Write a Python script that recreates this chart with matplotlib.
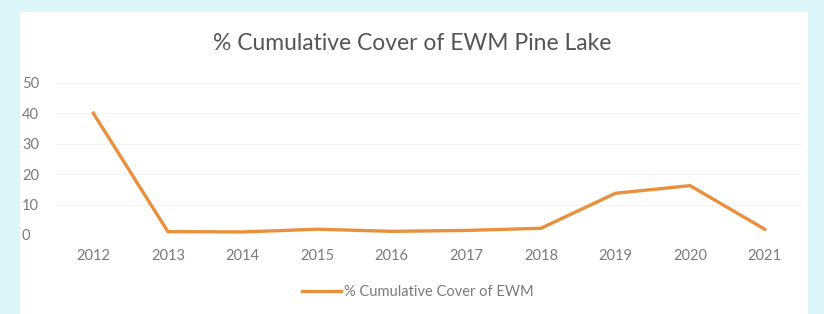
import matplotlib
matplotlib.use("Agg")
import matplotlib.pyplot as plt
from matplotlib.patches import Rectangle

years = ["2012", "2013", "2014", "2015", "2016", "2017", "2018", "2019", "2020", "2021"]
cover = [40, 1.1, 1.0, 1.9, 1.2, 1.5, 2.2, 13.7, 16.2, 1.9]
yticks = [0, 10, 20, 30, 40, 50]

plt.rcParams['font.family'] = ['Lato', 'DejaVu Sans']

fig = plt.figure(figsize=(8.24, 3.14), dpi=100, facecolor='#dcf5f8')
fig.patches.append(Rectangle((20/824, 0), (808-20)/824, 1 - 12/314,
                             transform=fig.transFigure, facecolor='white',
                             edgecolor='none', zorder=-5))

ax = fig.add_axes([56/824, 1 - 235/314, (802-56)/824, (235-82.7)/314])
ax.set_facecolor('none')
ax.set_zorder(2)
x = list(range(len(years)))
ax.plot(x, cover, color='#e8903c', linewidth=2.4, solid_joinstyle='miter',
        label='% Cumulative Cover of EWM', zorder=3)
ax.set_xlim(-0.5, len(years) - 0.5)
ax.set_ylim(0, 50)
ax.set_yticks(yticks)
ax.set_xticks(x)
ax.set_xticklabels(years)
ax.grid(axis='y', color='#f3f3f3', linewidth=0.8)
for s in ax.spines.values():
    s.set_visible(False)
ax.tick_params(axis='both', length=0, colors='#7a7a7a', labelsize=10.5)
ax.tick_params(axis='y', pad=24.5)
ax.tick_params(axis='x', pad=10)
for lbl in ax.get_yticklabels():
    lbl.set_horizontalalignment('left')

fig.text(412/824, 1 - 44/314, '% Cumulative Cover of EWM Pine Lake', ha='center', va='center',
         fontsize=16.5, color='#555555')
leg = fig.legend(loc='center', bbox_to_anchor=(418/824, 1 - 292/314), frameon=False,
                 fontsize=10.5, handlelength=2.7, handletextpad=0.2)
for t in leg.get_texts():
    t.set_color('#7a7a7a')

fig.savefig('out.png', dpi=100, facecolor=fig.get_facecolor())
